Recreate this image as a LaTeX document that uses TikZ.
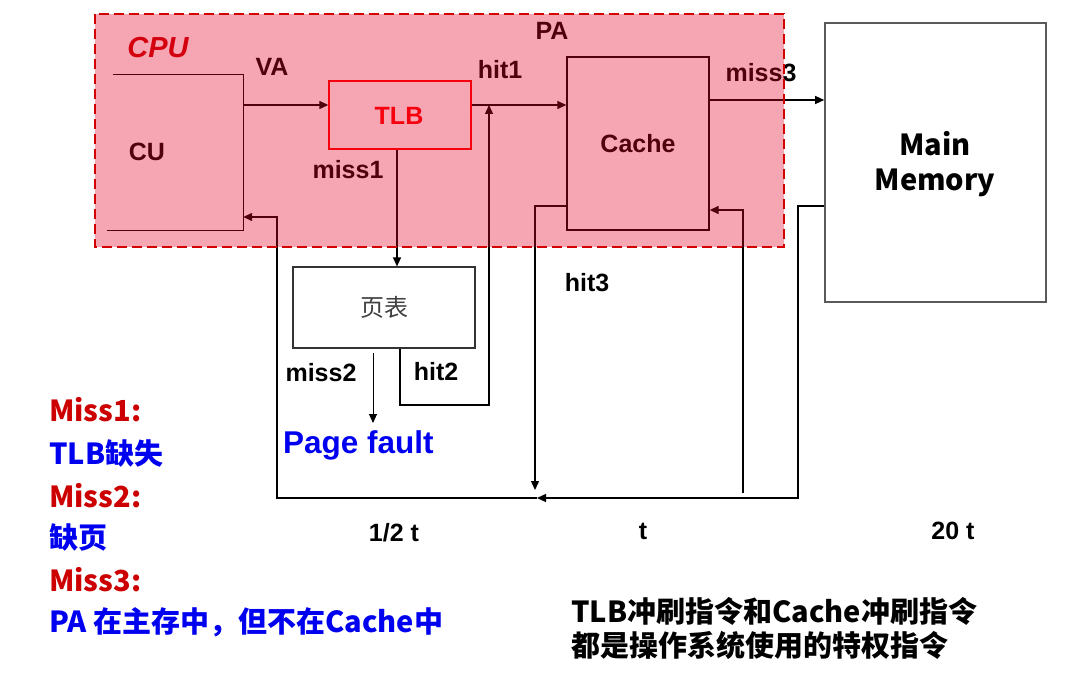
\documentclass[tikz,border=0pt]{standalone}
\usepackage{fontspec}
\setmainfont{Liberation Sans}
\newfontfamily\cjk{Noto Sans CJK SC}
\usetikzlibrary{arrows.meta}
\definecolor{missred}{RGB}{204,0,0}
\definecolor{txtblue}{RGB}{0,0,240}
\definecolor{cpupink}{RGB}{230,0,40}
\definecolor{dashred}{RGB}{210,0,0}
\definecolor{mmgray}{RGB}{90,90,90}
\begin{document}
\begin{tikzpicture}[x=1pt,y=-1pt,
  lbl/.style={font=\bfseries\fontsize{25}{28}\selectfont, inner sep=0pt},
  blk/.style={draw=black, line width=1.3pt, inner sep=0pt},
  wire/.style={draw=black, line width=1.3pt},
  arr/.style={wire, -{Triangle[length=9pt,width=8pt]}},
  side/.style={font=\cjk\bfseries\fontsize{29}{34}\selectfont, anchor=west, inner sep=0pt},
  note/.style={font=\cjk\bfseries\fontsize{29}{34}\selectfont, anchor=west, inner sep=0pt, text=black}]
\useasboundingbox (0,0) rectangle (1070,674);
\fill[white] (0,0) rectangle (1070,674);

% blocks
\node[minimum width=136pt, minimum height=155pt, inner sep=0pt] (cu) at (175,152.5) {};
\draw[wire, line width=1pt] ([xshift=6pt]cu.north west) -- (cu.north east) -- (cu.south east) -- (cu.south west);
\node[blk, draw=red, line width=1.4pt, minimum width=142pt, minimum height=68pt] (tlb) at (400,115) {};
\node[lbl, text=red] (tlbt) at (399,116) {TLB};
\node[blk, minimum width=142pt, minimum height=173pt, lbl] (cache) at (638,143.5) {Cache};
\node[draw=mmgray, line width=1.6pt, minimum width=221pt, minimum height=279pt, inner sep=0pt] (mm) at (935.5,162.5) {};
\node[font=\cjk\bfseries\fontsize{29}{35}\selectfont, align=center, inner sep=0pt] (mmt) at (935,164) {Main\\Memory};
\node[draw=black!80, line width=1.2pt, minimum width=182pt, minimum height=81pt, inner sep=0pt,
      font=\cjk\fontsize{24}{28}\selectfont, text=black!75] (pt) at (384,307.5) {页表};
\node[font=\bfseries\fontsize{31.5}{35}\selectfont, text=txtblue, anchor=west, inner sep=0pt] (pf) at (283,445) {Page fault};

% labels
\node[font=\bfseries\itshape\fontsize{29}{32}\selectfont, text=missred, inner sep=0pt] (cpu) at (158,48) {CPU};
\node[lbl] (cul) at (147,152) {CU};
\node[lbl] (va) at (272,67) {VA};
\node[lbl] (hit1) at (500,70) {hit1};
\node[lbl] (pa) at (552,31) {PA};
\node[lbl] (miss3) at (761,73) {miss3};
\node[lbl] (miss1) at (348,170) {miss1};
\node[lbl] (hit3) at (587,283) {hit3};
\node[lbl] (miss2) at (321,373) {miss2};
\node[lbl] (hit2) at (436,372) {hit2};
\node[lbl] (tA) at (394,533) {1/2 t};
\node[lbl] (tB) at (643,531) {t};
\node[lbl] (tC) at (953,531) {20 t};

% connectors
\coordinate (vaE) at ([yshift=10pt]tlb.west);
\draw[arr] (cu.east |- vaE) -- (vaE);
\coordinate (h1E) at ([yshift=38.5pt]cache.west);
\draw[arr] (tlb.east |- h1E) -- (h1E);
\coordinate (m3E) at ([yshift=62.5pt]mm.west);
\draw[arr] (cache.east |- m3E) -- (m3E);
\coordinate (m1S) at ([xshift=-3pt]tlb.south);
\draw[arr] (m1S) -- (m1S |- pt.north);
\coordinate (h2S) at ([xshift=16pt]pt.south);
\coordinate (h2c) at (489,405);
\draw[arr] (h2S) -- (h2S |- h2c) -- (h2c) -- (h2c |- h1E);
\coordinate (m2S) at ([xshift=-11pt,yshift=-4pt]pt.south);
\coordinate (m2E) at (373,423);
\draw[arr, line width=1pt] (m2S) -- (m2E);
\coordinate (h3S) at ([yshift=-62.5pt]cache.west);
\coordinate (h3c) at (535,206);
\coordinate (h3E) at (535,490);
\draw[arr] (h3S) -- (h3c) -- (h3E);
\coordinate (crB) at (743,493);
\coordinate (crE) at ([yshift=-66.5pt]cache.east);
\draw[arr] (crB) -- (crB |- crE) -- (crE);
\coordinate (mrS) at ([yshift=-43.5pt]mm.west);
\coordinate (mrc) at (798,498);
\coordinate (mrE) at (537,498);
\draw[arr] (mrS) -- (mrS -| mrc) -- (mrc) -- (mrE);
\coordinate (cuB) at (277,498);
\coordinate (cuR) at (277,217);
\draw[arr] (mrE) -- (cuB) -- (cuR) -- (cuR -| cu.east);

% CPU region tint and border
\fill[cpupink, fill opacity=0.35] (95,14) rectangle (784,247);
\draw[dashred, line width=2.5pt, dash pattern=on 10pt off 5pt] (95,14) rectangle (784,247);

% side notes
\node[side, text=missred] (s1) at (49,410) {Miss1:};
\node[side, text=txtblue] (s2) at (49,453) {TLB缺失};
\node[side, text=missred] (s3) at (49,496) {Miss2:};
\node[side, text=txtblue] (s4) at (49,538) {缺页};
\node[side, text=missred] (s5) at (49,580) {Miss3:};
\node[side, text=txtblue] (s6) at (49,622) {PA 在主存中，但不在Cache中};
\node[note] (n1) at (571,611) {TLB冲刷指令和Cache冲刷指令};
\node[note] (n2) at (571,645) {都是操作系统使用的特权指令};
\end{tikzpicture}
\end{document}
